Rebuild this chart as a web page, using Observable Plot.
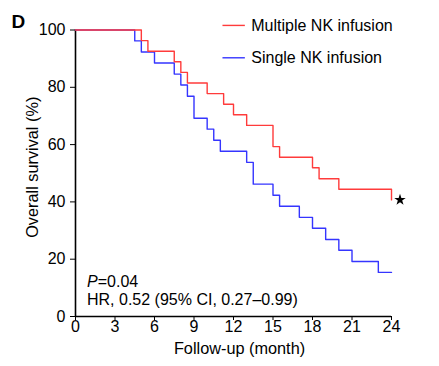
<!DOCTYPE html>
<html>
<head>
<meta charset="utf-8">
<script src="https://cdn.jsdelivr.net/npm/d3@7"></script>
<script src="https://cdn.jsdelivr.net/npm/@observablehq/plot@0.6"></script>
<style>
  html, body { margin: 0; padding: 0; background: #fff; }
  #chart svg { display: block; }
</style>
</head>
<body>
<div id="chart"></div>
<script>
// Kaplan-Meier step points (month, survival %)
const multiMonths = [0, 5, 5.5, 7.5, 8, 8.5, 10, 11.25, 12, 13, 15, 15.5, 18, 18.5, 20, 24];
const multiSurv   = [100, 96.3, 92.6, 88.9, 85.2, 81.5, 77.8, 74.1, 70.4, 66.7, 59.3, 55.6, 51.9, 48.1, 44.4, 40.7];
const singleMonths = [0, 4.5, 5, 6, 7.5, 8, 8.5, 9, 10, 10.5, 11, 13, 13.5, 15, 15.5, 17, 18, 19, 20, 21, 23, 24];
const singleSurv   = [100, 96.2, 92.3, 88.5, 84.6, 80.8, 76.9, 69.2, 65.4, 61.5, 57.7, 53.8, 46.2, 42.3, 38.5, 34.6, 30.8, 26.9, 23.1, 19.2, 15.4, 15.4];
const seriesNames = ["Multiple NK infusion", "Single NK infusion"];
const seriesColors = ["#ff3b3b", "#3535ff"];
const xTicks = [0, 3, 6, 9, 12, 15, 18, 21, 24];
const yTicks = [0, 20, 40, 60, 80, 100];
const xLabel = "Follow-up (month)";
const yLabel = "Overall survival (%)";
const panelLabel = "D";
const pText = "=0.04";
const hrText = "HR, 0.52 (95% CI, 0.27\u20130.99)";

const multi = multiMonths.map((m, i) => ({month: m, surv: multiSurv[i], group: seriesNames[0]}));
const single = singleMonths.map((m, i) => ({month: m, surv: singleSurv[i], group: seriesNames[1]}));
const legend = seriesNames.map((name, i) => ({name, color: seriesColors[i], i}));

const font = "'Liberation Sans', Arial, Helvetica, sans-serif";

// legend positions (data units)
const legX1 = 11.2, legX2 = 12.9, legTX = 13.35;
const legY = [101.6, 90.3];

const chart = Plot.plot({
  width: 439,
  height: 366,
  marginLeft: 75,
  marginRight: 48,
  marginTop: 29.5,
  marginBottom: 50,
  style: {fontFamily: font, background: "#fff", color: "#000", overflow: "visible"},
  x: {domain: [0, 24]},
  y: {domain: [0, 100]},
  marks: [
    Plot.axisX({ticks: xTicks, tickSize: 4, tickPadding: 0, fontSize: 16, label: null}),
    Plot.axisY({ticks: yTicks, tickSize: 5, tickPadding: 5, fontSize: 16, label: null}),
    Plot.ruleX([0], {y1: 0, y2: 100, stroke: "#000", strokeWidth: 1.6}),
    Plot.ruleY([0], {x1: 0, x2: 24, stroke: "#000", strokeWidth: 1.6}),
    Plot.line(single, {x: "month", y: "surv", curve: "step-after", stroke: seriesColors[1], strokeWidth: 1.4}),
    Plot.line(multi, {x: "month", y: "surv", curve: "step-after", stroke: seriesColors[0], strokeWidth: 1.4}),
    Plot.dot(multi.slice(-1), {x: "month", y: "surv", symbol: "star", r: 3.6, fill: "#000", dx: 8.5}),
    // legend
    Plot.ruleY(legend, {y: d => legY[d.i], x1: legX1, x2: legX2, stroke: "color", strokeWidth: 1.4}),
    Plot.text(legend, {y: d => legY[d.i], x: legTX, text: "name", textAnchor: "start", lineAnchor: "middle", fontSize: 16, fill: "#000"}),
    // axis labels
    Plot.text([xLabel], {frameAnchor: "bottom", dx: 6, dy: 32, textAnchor: "middle", lineAnchor: "middle", text: d => d, fontSize: 16.3, fill: "#000"}),
    Plot.text([yLabel], {frameAnchor: "left", rotate: -90, dx: -43, dy: -6, textAnchor: "middle", lineAnchor: "middle", text: d => d, fontSize: 16.3, fill: "#000"}),
    // panel label
    Plot.text([panelLabel], {frameAnchor: "top-left", dx: -64, dy: -8, textAnchor: "start", lineAnchor: "middle", text: d => d, fontSize: 19, fontWeight: "bold", fill: "#000"}),
    // stats annotations
    Plot.text(["P"], {frameAnchor: "bottom-left", dx: 11.5, dy: -35, textAnchor: "start", lineAnchor: "middle", text: d => d, fontSize: 16, fontStyle: "italic", fill: "#000"}),
    Plot.text([pText], {frameAnchor: "bottom-left", dx: 22.2, dy: -35, textAnchor: "start", lineAnchor: "middle", text: d => d, fontSize: 16, fill: "#000"}),
    Plot.text([hrText], {frameAnchor: "bottom-left", dx: 11.5, dy: -16.5, textAnchor: "start", lineAnchor: "middle", text: d => d, fontSize: 16, fill: "#000"})
  ]
});
document.getElementById("chart").appendChild(chart);
</script>
</body>
</html>
